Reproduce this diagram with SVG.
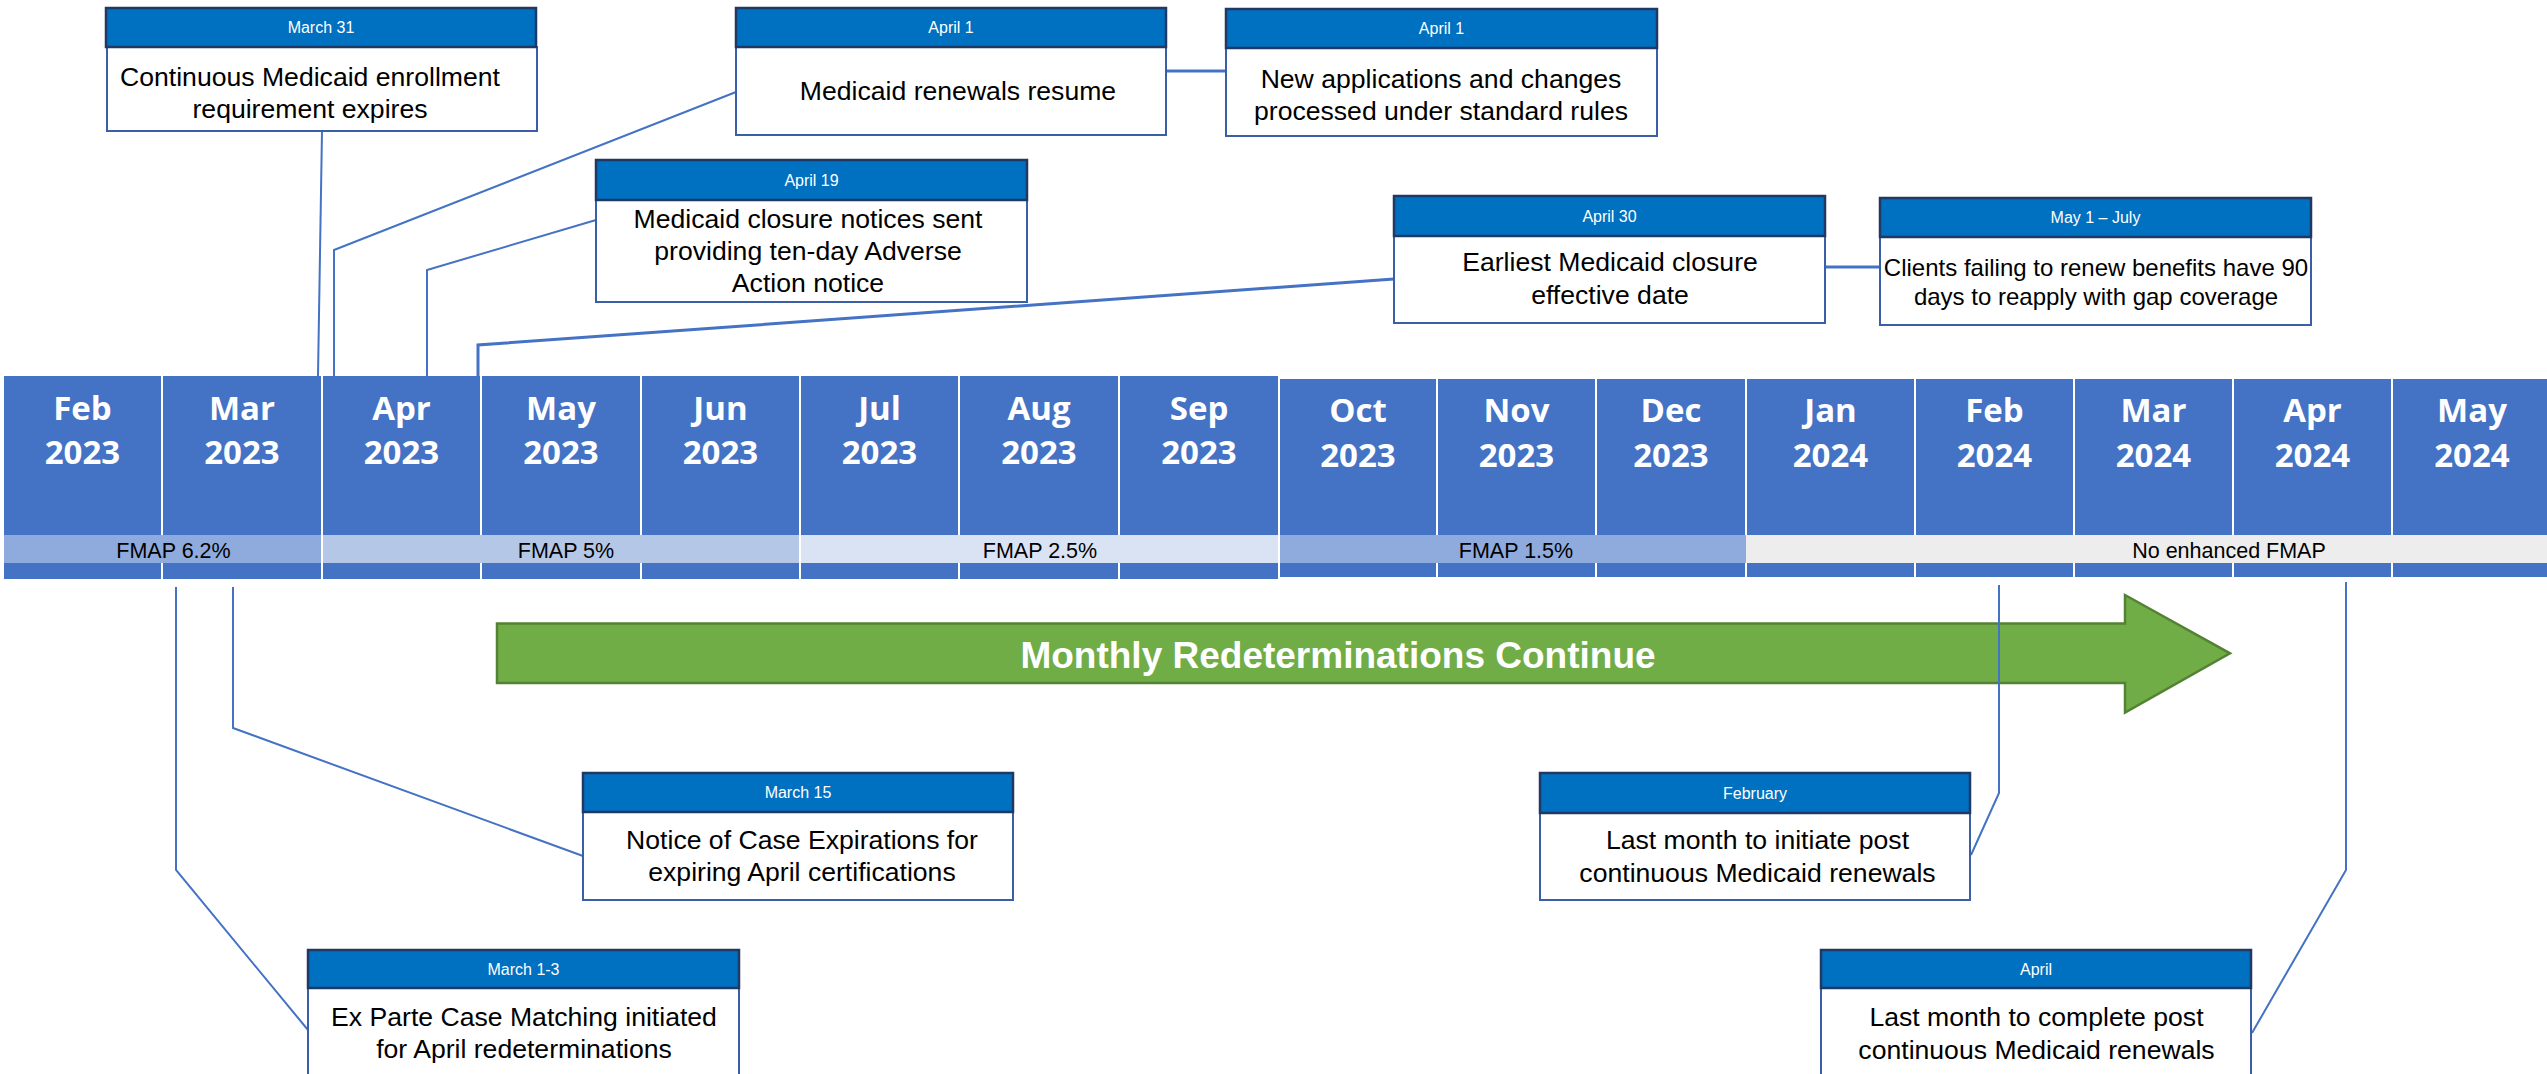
<svg xmlns="http://www.w3.org/2000/svg" width="2547" height="1074" viewBox="0 0 2547 1074">
<style>
.hdr{fill:#0070C0;stroke:#1F3864;stroke-width:2.5}
.bdy{fill:#ffffff;stroke:#3A5FA8;stroke-width:2}
.ht{font-family:"Liberation Sans",Arial,sans-serif;font-size:16px;fill:#ffffff;text-anchor:middle}
.bt{font-family:"Liberation Sans",Arial,sans-serif;font-size:26.6px;fill:#000000;text-anchor:middle}
.bt2{font-family:"Liberation Sans",Arial,sans-serif;font-size:24px;fill:#000000;text-anchor:middle}
.col{fill:#4472C4}
.mt{font-family:"Open Sans",sans-serif;font-weight:bold;font-size:33px;fill:#ffffff;text-anchor:middle}
.ft{font-family:"Liberation Sans",Arial,sans-serif;font-size:21.5px;fill:#000000;text-anchor:middle}
.conn{fill:none;stroke:#4472C4;stroke-width:2}
.conn3{fill:none;stroke:#4472C4;stroke-width:3}
</style>

<g id="timeline">
  <g id="month-feb-2023"><rect class="col" x="4" y="376" width="157" height="203"/><text class="mt" x="82.5" y="420">Feb</text><text class="mt" x="82.5" y="464">2023</text></g>
  <g id="month-mar-2023"><rect class="col" x="163" y="376" width="158" height="203"/><text class="mt" x="242" y="420">Mar</text><text class="mt" x="242" y="464">2023</text></g>
  <g id="month-apr-2023"><rect class="col" x="323" y="376" width="157" height="203"/><text class="mt" x="401.5" y="420">Apr</text><text class="mt" x="401.5" y="464">2023</text></g>
  <g id="month-may-2023"><rect class="col" x="482" y="376" width="158" height="203"/><text class="mt" x="561" y="420">May</text><text class="mt" x="561" y="464">2023</text></g>
  <g id="month-jun-2023"><rect class="col" x="642" y="376" width="157" height="203"/><text class="mt" x="720.5" y="420">Jun</text><text class="mt" x="720.5" y="464">2023</text></g>
  <g id="month-jul-2023"><rect class="col" x="801" y="376" width="157" height="203"/><text class="mt" x="879.5" y="420">Jul</text><text class="mt" x="879.5" y="464">2023</text></g>
  <g id="month-aug-2023"><rect class="col" x="960" y="376" width="158" height="203"/><text class="mt" x="1039" y="420">Aug</text><text class="mt" x="1039" y="464">2023</text></g>
  <g id="month-sep-2023"><rect class="col" x="1120" y="376" width="158" height="203"/><text class="mt" x="1199" y="420">Sep</text><text class="mt" x="1199" y="464">2023</text></g>
  <g id="month-oct-2023"><rect class="col" x="1280" y="379" width="156" height="198"/><text class="mt" x="1358" y="422">Oct</text><text class="mt" x="1358" y="467">2023</text></g>
  <g id="month-nov-2023"><rect class="col" x="1438" y="379" width="157" height="198"/><text class="mt" x="1516.5" y="422">Nov</text><text class="mt" x="1516.5" y="467">2023</text></g>
  <g id="month-dec-2023"><rect class="col" x="1597" y="379" width="148" height="198"/><text class="mt" x="1671" y="422">Dec</text><text class="mt" x="1671" y="467">2023</text></g>
  <g id="month-jan-2024"><rect class="col" x="1747" y="379" width="167" height="198"/><text class="mt" x="1830.5" y="422">Jan</text><text class="mt" x="1830.5" y="467">2024</text></g>
  <g id="month-feb-2024"><rect class="col" x="1916" y="379" width="157" height="198"/><text class="mt" x="1994.5" y="422">Feb</text><text class="mt" x="1994.5" y="467">2024</text></g>
  <g id="month-mar-2024"><rect class="col" x="2075" y="379" width="157" height="198"/><text class="mt" x="2153.5" y="422">Mar</text><text class="mt" x="2153.5" y="467">2024</text></g>
  <g id="month-apr-2024"><rect class="col" x="2234" y="379" width="157" height="198"/><text class="mt" x="2312.5" y="422">Apr</text><text class="mt" x="2312.5" y="467">2024</text></g>
  <g id="month-may-2024"><rect class="col" x="2393" y="379" width="160" height="198"/><text class="mt" x="2472" y="422">May</text><text class="mt" x="2472" y="467">2024</text></g>

  <g id="fmap-bands">
    <rect x="4" y="535" width="317" height="28" fill="#8FAADC"/>
    <rect x="323" y="535" width="476" height="28" fill="#B4C7E7"/>
    <rect x="801" y="535" width="477" height="28" fill="#DAE3F3"/>
    <rect x="1280" y="535" width="466" height="28" fill="#8FAADC"/>
    <rect x="1746" y="535" width="807" height="28" fill="#EDEDED"/>
    <text class="ft" x="173.5" y="558">FMAP 6.2%</text>
    <text class="ft" x="566" y="558">FMAP 5%</text>
    <text class="ft" x="1040" y="558">FMAP 2.5%</text>
    <text class="ft" x="1516" y="558">FMAP 1.5%</text>
    <text class="ft" x="2229" y="558">No enhanced FMAP</text>
  </g>
</g>

<g id="redeterminations-arrow">
  <polygon points="497,623.5 2125,623.5 2125,595 2230,653.3 2125,712.5 2125,683 497,683" fill="#70AD47" stroke="#548235" stroke-width="2.5"/>
  <text x="1338" y="667.5" font-family="'Liberation Sans',Arial,sans-serif" font-weight="bold" font-size="37" fill="#ffffff" text-anchor="middle">Monthly Redeterminations Continue</text>
</g>

<g id="connectors">
  <polyline class="conn" points="322,131 318,376"/>
  <polyline class="conn" points="736,92 334,250 334,376"/>
  <polyline class="conn" points="596,220 427,270 427,376"/>
  <polyline class="conn3" points="1394,279 478,345 478,376"/>
  <polyline class="conn3" points="1166,71 1226,71"/>
  <polyline class="conn3" points="1825,267 1880,267"/>
  <polyline class="conn" points="233,587 233,728 583,856"/>
  <polyline class="conn" points="176,587 176,870 308,1030"/>
  <polyline class="conn" points="1999,585 1999,793 1971,855"/>
  <polyline class="conn" points="2346,582 2346,870 2252,1033"/>
</g>

<g id="node-march-31">
  <rect class="bdy" x="107" y="47" width="430" height="84"/>
  <rect class="hdr" x="106" y="8" width="430" height="39"/>
  <text class="ht" x="321" y="33">March 31</text>
  <text class="bt" x="310" y="86">Continuous Medicaid enrollment</text>
  <text class="bt" x="310" y="118">requirement expires</text>
</g>

<g id="node-april-1-renewals">
  <rect class="bdy" x="736" y="47" width="430" height="88"/>
  <rect class="hdr" x="736" y="8" width="430" height="39"/>
  <text class="ht" x="951" y="33">April 1</text>
  <text class="bt" x="958" y="100">Medicaid renewals resume</text>
</g>

<g id="node-april-1-applications">
  <rect class="bdy" x="1226" y="48" width="431" height="88"/>
  <rect class="hdr" x="1226" y="9" width="431" height="39"/>
  <text class="ht" x="1441.5" y="34">April 1</text>
  <text class="bt" x="1441" y="88">New applications and changes</text>
  <text class="bt" x="1441" y="120">processed under standard rules</text>
</g>

<g id="node-april-19">
  <rect class="bdy" x="596" y="200" width="431" height="102"/>
  <rect class="hdr" x="596" y="160" width="431" height="40"/>
  <text class="ht" x="811.5" y="185.5">April 19</text>
  <text class="bt" x="808" y="228">Medicaid closure notices sent</text>
  <text class="bt" x="808" y="260">providing ten-day Adverse</text>
  <text class="bt" x="808" y="292">Action notice</text>
</g>

<g id="node-april-30">
  <rect class="bdy" x="1394" y="236" width="431" height="87"/>
  <rect class="hdr" x="1394" y="196" width="431" height="40"/>
  <text class="ht" x="1609.5" y="222">April 30</text>
  <text class="bt" x="1610" y="271">Earliest Medicaid closure</text>
  <text class="bt" x="1610" y="304">effective date</text>
</g>

<g id="node-may-july">
  <rect class="bdy" x="1880" y="237" width="431" height="88"/>
  <rect class="hdr" x="1880" y="198" width="431" height="39"/>
  <text class="ht" x="2095.5" y="223">May 1 – July</text>
  <text class="bt2" x="2096" y="276">Clients failing to renew benefits have 90</text>
  <text class="bt2" x="2096" y="305">days to reapply with gap coverage</text>
</g>

<g id="node-march-15">
  <rect class="bdy" x="583" y="812" width="430" height="88"/>
  <rect class="hdr" x="583" y="773" width="430" height="39"/>
  <text class="ht" x="798" y="798">March 15</text>
  <text class="bt" x="802" y="849">Notice of Case Expirations for</text>
  <text class="bt" x="802" y="881">expiring April certifications</text>
</g>

<g id="node-march-1-3">
  <rect class="bdy" x="308" y="988" width="431" height="100"/>
  <rect class="hdr" x="308" y="950" width="431" height="38"/>
  <text class="ht" x="523.5" y="974.5">March 1-3</text>
  <text class="bt" x="524" y="1026">Ex Parte Case Matching initiated</text>
  <text class="bt" x="524" y="1058">for April redeterminations</text>
</g>

<g id="node-february">
  <rect class="bdy" x="1540" y="813" width="430" height="87"/>
  <rect class="hdr" x="1540" y="773" width="430" height="40"/>
  <text class="ht" x="1755" y="798.5">February</text>
  <text class="bt" x="1757.5" y="849">Last month to initiate post</text>
  <text class="bt" x="1757.5" y="882">continuous Medicaid renewals</text>
</g>

<g id="node-april">
  <rect class="bdy" x="1821" y="988" width="430" height="100"/>
  <rect class="hdr" x="1821" y="950" width="430" height="38"/>
  <text class="ht" x="2036" y="974.5">April</text>
  <text class="bt" x="2036.5" y="1026">Last month to complete post</text>
  <text class="bt" x="2036.5" y="1059">continuous Medicaid renewals</text>
</g>
</svg>
